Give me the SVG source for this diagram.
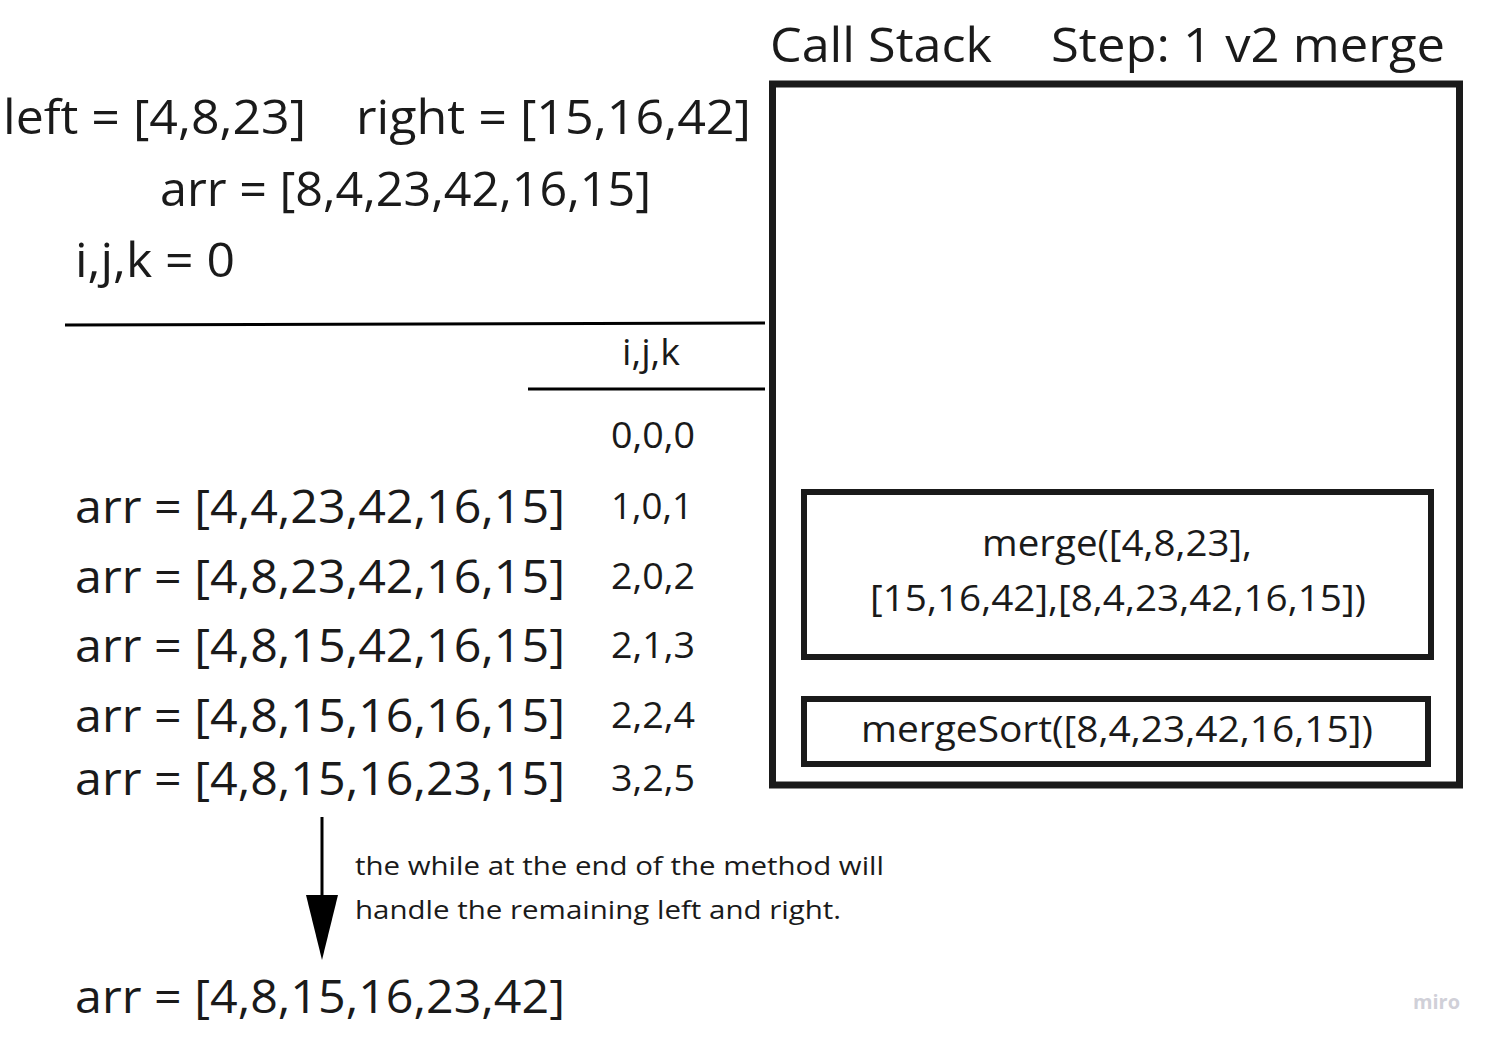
<svg xmlns="http://www.w3.org/2000/svg" width="1495" height="1044" viewBox="0 0 1495 1044">
<style>
text{font-family:"Open Sans","Noto Sans","DejaVu Sans",sans-serif;fill:#1a1a1a}
.big{font-size:48px}
.row{font-size:46px}
.sm{font-size:37px}
.box{font-size:36px}
.note{font-size:26px}
.frame{fill:none;stroke:#1a1a1a}
</style>
<rect width="1495" height="1044" fill="#fff"/>
<g id="titles">
<text class="big" x="770" y="62" textLength="222" lengthAdjust="spacingAndGlyphs">Call Stack</text>
<text class="big" x="1051" y="62" textLength="394" lengthAdjust="spacingAndGlyphs">Step: 1 v2 merge</text>
</g>
<g id="vars">
<text class="big" x="3" y="134" textLength="303" lengthAdjust="spacingAndGlyphs">left = [4,8,23]</text>
<text class="big" x="356" y="134" textLength="395" lengthAdjust="spacingAndGlyphs">right = [15,16,42]</text>
<text class="big" x="160" y="206" textLength="491" lengthAdjust="spacingAndGlyphs">arr = [8,4,23,42,16,15]</text>
<text class="big" x="75" y="277" textLength="160" lengthAdjust="spacingAndGlyphs">i,j,k = 0</text>
</g>
<g id="table-lines">
<line x1="65" y1="325" x2="765" y2="323" stroke="#000" stroke-width="3"/>
<line x1="528" y1="389" x2="765" y2="389" stroke="#000" stroke-width="3"/>
</g>
<g id="ijk">
<text class="sm" x="622" y="365" textLength="58" lengthAdjust="spacingAndGlyphs">i,j,k</text>
<text class="sm" x="611" y="448" textLength="84" lengthAdjust="spacingAndGlyphs">0,0,0</text>
<text class="sm" x="611" y="519" textLength="82" lengthAdjust="spacingAndGlyphs">1,0,1</text>
<text class="sm" x="611" y="589" textLength="84" lengthAdjust="spacingAndGlyphs">2,0,2</text>
<text class="sm" x="611" y="658" textLength="84" lengthAdjust="spacingAndGlyphs">2,1,3</text>
<text class="sm" x="611" y="728" textLength="84" lengthAdjust="spacingAndGlyphs">2,2,4</text>
<text class="sm" x="611" y="791" textLength="84" lengthAdjust="spacingAndGlyphs">3,2,5</text>
</g>
<g id="rows">
<text class="row" x="75" y="523" textLength="490" lengthAdjust="spacingAndGlyphs">arr = [4,4,23,42,16,15]</text>
<text class="row" x="75" y="593" textLength="490" lengthAdjust="spacingAndGlyphs">arr = [4,8,23,42,16,15]</text>
<text class="row" x="75" y="662" textLength="490" lengthAdjust="spacingAndGlyphs">arr = [4,8,15,42,16,15]</text>
<text class="row" x="75" y="732" textLength="490" lengthAdjust="spacingAndGlyphs">arr = [4,8,15,16,16,15]</text>
<text class="row" x="75" y="795" textLength="490" lengthAdjust="spacingAndGlyphs">arr = [4,8,15,16,23,15]</text>
<text class="row" x="75" y="1013" textLength="490" lengthAdjust="spacingAndGlyphs">arr = [4,8,15,16,23,42]</text>
</g>
<g id="connectors">
<line x1="322" y1="817" x2="322" y2="900" stroke="#000" stroke-width="3"/>
<path d="M306,895 L338,895 L322,960 Z" fill="#000"/>
</g>
<g id="note">
<text class="note" x="355" y="875" textLength="529" lengthAdjust="spacingAndGlyphs">the while at the end of the method will</text>
<text class="note" x="355" y="919" textLength="486" lengthAdjust="spacingAndGlyphs">handle the remaining left and right.</text>
</g>
<g id="call-stack">
<rect class="frame" x="772.5" y="84" width="687" height="701" stroke-width="7"/>
</g>
<g id="merge-frame">
<rect class="frame" x="804" y="492" width="627" height="165" stroke-width="6"/>
<text class="box" x="1117" y="556" text-anchor="middle" textLength="270" lengthAdjust="spacingAndGlyphs">merge([4,8,23],</text>
<text class="box" x="1118" y="611" text-anchor="middle" textLength="496" lengthAdjust="spacingAndGlyphs">[15,16,42],[8,4,23,42,16,15])</text>
</g>
<g id="mergesort-frame">
<rect class="frame" x="804" y="699" width="624" height="65" stroke-width="6"/>
<text class="box" x="1117" y="742" text-anchor="middle" textLength="512" lengthAdjust="spacingAndGlyphs">mergeSort([8,4,23,42,16,15])</text>
</g>
<text x="1413" y="1009" style="font-size:20px;font-weight:bold;fill:#d0d0d8" textLength="47" lengthAdjust="spacingAndGlyphs">miro</text>
</svg>
